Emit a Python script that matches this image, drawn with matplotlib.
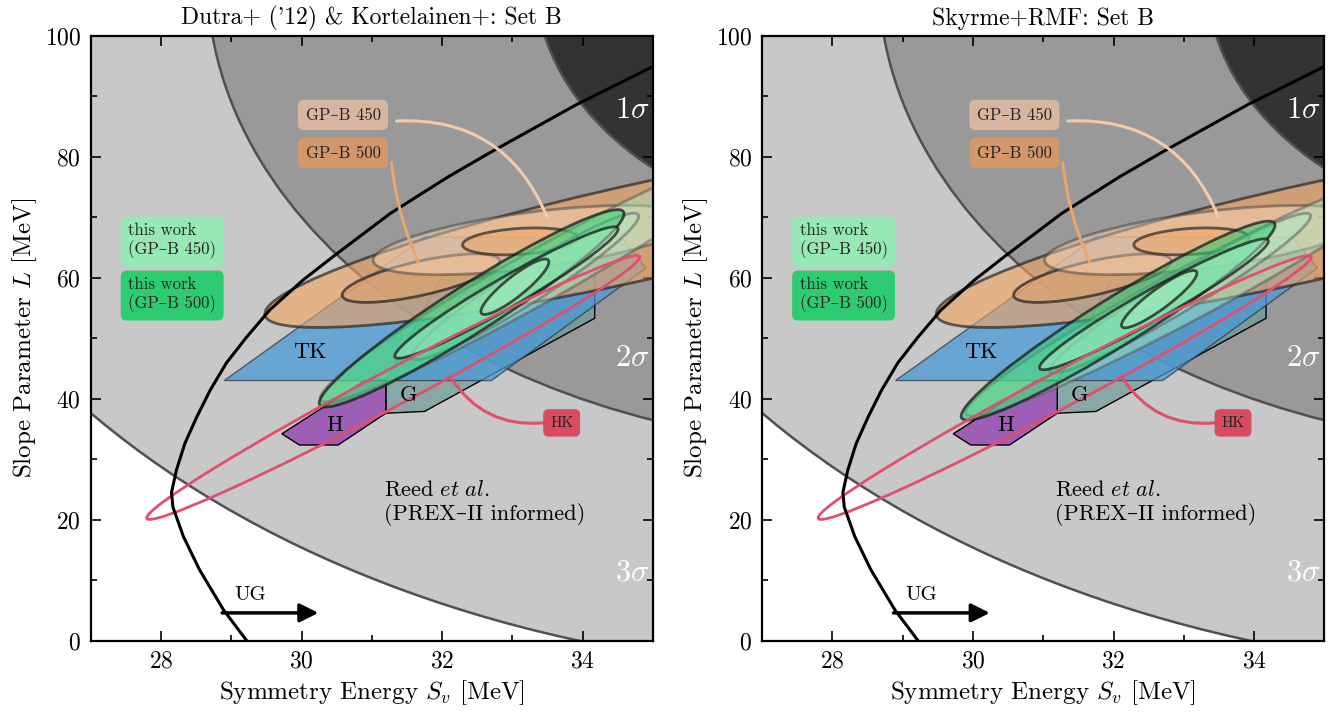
import numpy as np
import matplotlib
matplotlib.use("Agg")
import matplotlib.pyplot as plt
from matplotlib.colors import to_rgba
from matplotlib.patches import Ellipse, Polygon
from matplotlib.transforms import Affine2D
from matplotlib.ticker import MultipleLocator

plt.rcParams["font.family"] = ["cmr10", "DejaVu Serif"]
plt.rcParams["mathtext.fontset"] = "cm"
plt.rcParams["axes.formatter.use_mathtext"] = True

# Reed et al. (PREX-II informed): centre and half-widths of the 1, 2, 3 sigma contours
reed_sv0, reed_L0 = 38.29, 109.56
reed_sigma = ["1", "2", "3"]
reed_half_sv = [4.96, 9.63, 14.48]
reed_half_L = [42.05, 77.8, 114.85]

# unitary gas bound
ug_sv = [29.22, 28.89, 28.55, 28.32, 28.17, 28.15, 28.22, 28.34, 28.51, 28.70, 28.93,
         29.22, 29.55, 30.02, 30.45, 31.26, 32.09, 32.70, 33.91, 35.0]
ug_L = [0.0, 5.1, 11.7, 17.2, 22.1, 24.5, 28.2, 32.6, 37.0, 41.4, 45.9,
        50.2, 54.7, 59.6, 63.5, 70.6, 76.7, 80.8, 88.6, 94.9]

# TK, G, H regions
tk_sv = [28.9, 31.75, 34.55, 34.9, 32.7]
tk_L = [43.0, 66.7, 66.7, 61.6, 43.0]
g_sv = [31.2, 31.75, 34.17, 34.17, 32.0, 31.2]
g_L = [37.6, 37.9, 53.3, 60.4, 60.4, 42.8]
h_sv = [29.72, 29.97, 30.52, 31.2, 31.2, 30.9]
h_L = [34.2, 32.35, 32.35, 37.6, 43.0, 43.0]

# HK ellipse: ends of the long axis and half width (S_v units)
hk_sv = [27.8, 34.81]
hk_L = [20.2, 63.5]
hk_w = 0.256

# GP-B ellipses (outer 500, inner 500, outer 450, inner 450)
gpb_sv_lo = [29.48, 30.58, 31.02, 32.29]
gpb_L_lo = [53.8, 57.0, 62.8, 65.4]
gpb_sv_hi = [40.14, 32.82, 35.56, 33.93]
gpb_L_hi = [81.3, 62.85, 69.64, 66.6]
gpb_w = [0.683, 0.242, 0.398, 0.185]

# this work, Dutra+ & Kortelainen+ set
dutra_sv_lo = [30.27, 31.57, 30.26, 31.33, 32.56]
dutra_L_lo = [39.83, 46.7, 38.96, 46.9, 54.1]
dutra_sv_hi = [36.46, 34.79, 34.58, 34.5, 33.51]
dutra_L_hi = [80.4, 70.4, 70.9, 68.2, 62.9]
dutra_w = [0.37, 0.256, 0.341, 0.213, 0.142]

# this work, Skyrme+RMF set
skyrme_sv_lo = [29.9, 31.1, 29.84, 30.95, 32.12]
skyrme_L_lo = [37.5, 44.5, 36.8, 45.0, 51.9]
skyrme_sv_hi = [36.3, 34.8, 34.29, 34.2, 33.18]
skyrme_L_hi = [77.5, 70.4, 69.0, 66.2, 61.0]
skyrme_w = [0.37, 0.256, 0.341, 0.213, 0.142]

reed_fill = ["#333333", "#999999", "#c8c8c8"]
gpb_style = [("#f4a460", 0.6, "#262626", 0.7),
             ("#f4a460", 0.45, "#262626", 0.75),
             ("#ffdcc0", 0.45, "#404040", 0.5),
             ("#f4a460", 0.45, "#262626", 0.7)]
work_style = [("#a9eec6", 0.45, "#555555", 0.5),
              ("#a9eec6", 0.35, "#555555", 0.5),
              ("#2ecc71", 0.55, "#1a1a1a", 0.75),
              ("#a9eec6", 0.5, "#1a1a1a", 0.75),
              ("#a9eec6", 0.45, "#1a1a1a", 0.75)]


def add_ellipse(ax, k, sv, L, w, fc, ec, lw, z):
    # drawn in (S_v, L/k) where both axes have the same pixel scale
    y = [L[0] / k, L[1] / k]
    cx, cy = (sv[0] + sv[1]) / 2, (y[0] + y[1]) / 2
    half = np.hypot(sv[1] - sv[0], y[1] - y[0]) / 2
    ang = np.degrees(np.arctan2(y[1] - y[0], sv[1] - sv[0]))
    e = Ellipse((cx, cy), 2 * half, 2 * w, angle=ang, fc=fc, ec=ec, lw=lw,
                transform=Affine2D().scale(1, k) + ax.transData, zorder=z)
    ax.add_patch(e)


def pointer(ax, start, end, color, rad):
    ax.annotate("", xy=end, xytext=start, zorder=6.5,
                arrowprops=dict(arrowstyle="-", color=color, lw=2.2,
                                connectionstyle="arc3,rad=%g" % rad, shrinkA=0, shrinkB=0))


def draw_panel(ax, title, sv_lo, L_lo, sv_hi, L_hi, wid):
    ax.set_xlim(27, 35)
    ax.set_ylim(0, 100)
    bb = ax.get_window_extent()
    k = (bb.width / 8.0) / (bb.height / 100.0)

    for i in [2, 1, 0]:
        ax.add_patch(Ellipse((reed_sv0, reed_L0), 2 * reed_half_sv[i], 2 * reed_half_L[i],
                             fc=reed_fill[i], ec="#505050", lw=1.8, zorder=0.1 + 0.1 * (2 - i)))

    ax.add_patch(Polygon(np.column_stack([g_sv, g_L]), fc=to_rgba("#6f9a9a", 0.7),
                         ec="k", lw=1.0, zorder=1))
    ax.add_patch(Polygon(np.column_stack([tk_sv, tk_L]), fc=to_rgba("#4a9ad8", 0.75),
                         ec=to_rgba("#333333", 0.7), lw=1.0, zorder=1.1))
    ax.add_patch(Polygon(np.column_stack([h_sv, h_L]), fc=to_rgba("#9b59b6", 0.95),
                         ec="k", lw=1.0, zorder=1.2))

    for i in range(len(gpb_w)):
        fc, fa, ec, ea = gpb_style[i]
        add_ellipse(ax, k, [gpb_sv_lo[i], gpb_sv_hi[i]], [gpb_L_lo[i], gpb_L_hi[i]], gpb_w[i],
                    to_rgba(fc, fa), to_rgba(ec, ea), 2.0, 2 + 0.1 * i)
    for i in range(len(wid)):
        fc, fa, ec, ea = work_style[i]
        add_ellipse(ax, k, [sv_lo[i], sv_hi[i]], [L_lo[i], L_hi[i]], wid[i],
                    to_rgba(fc, fa), to_rgba(ec, ea), 2.0, 3 + 0.1 * i)
    add_ellipse(ax, k, hk_sv, hk_L, hk_w, "none", "#e0506e", 2.0, 4)

    ax.plot(ug_sv, ug_L, color="k", lw=2.2, zorder=5, solid_joinstyle="round")
    ax.annotate("", xy=(30.24, 4.6), xytext=(28.87, 4.6), zorder=5,
                arrowprops=dict(arrowstyle="-|>", color="k", lw=2.5, mutation_scale=28,
                                shrinkA=0, shrinkB=0))
    ax.text(29.27, 7.6, "UG", fontsize=15, ha="center", va="center", zorder=6)

    ax.text(30.12, 47.7, "TK", fontsize=16, ha="center", va="center", zorder=6)
    ax.text(30.47, 35.6, "H", fontsize=16, ha="center", va="center", zorder=6)
    ax.text(31.52, 40.6, "G", fontsize=16, ha="center", va="center", zorder=6)
    ax.text(31.17, 22.8, "Reed $\\mathit{et\\ al.}$\n(PREX–II informed)", fontsize=16,
            ha="left", va="center", linespacing=1.15, zorder=6)

    for lab, yy in [("1", 87.7), ("2", 46.7), ("3", 11.3)]:
        ax.text(34.95, yy, "$%s\\sigma$" % lab, color="white", fontsize=22,
                ha="right", va="center", zorder=6)

    def box(c):
        return dict(boxstyle="round,pad=0.45,rounding_size=0.35", fc=c, ec="none")

    pointer(ax, (31.35, 85.9), (33.49, 70.1), "#f2cba8", -0.35)
    pointer(ax, (31.28, 79.0), (31.66, 62.6), "#e9a56e", 0.08)
    pointer(ax, (33.43, 36.0), (32.13, 43.4), "#e0506e", -0.3)

    ax.text(30.59, 86.9, "GP–B 450", fontsize=12, ha="center", va="center",
            color="#222222", bbox=box("#d6b6a0"), zorder=7)
    ax.text(30.59, 80.6, "GP–B 500", fontsize=12, ha="center", va="center",
            color="#222222", bbox=box("#d4976a"), zorder=7)
    ax.text(33.7, 36.0, "HK", fontsize=11, ha="center", va="center",
            color="#222222", bbox=box("#d94b61"), zorder=7)
    ax.text(28.16, 66.1, "this work\n(GP–B 450)", fontsize=12, ha="center", va="center",
            multialignment="left", color="#222222", bbox=box("#96e8b4"), zorder=7)
    ax.text(28.16, 57.2, "this work\n(GP–B 500)", fontsize=12, ha="center", va="center",
            multialignment="left", color="#222222", bbox=box("#2ecc71"), zorder=7)

    ax.xaxis.set_major_locator(MultipleLocator(2))
    ax.xaxis.set_minor_locator(MultipleLocator(1))
    ax.yaxis.set_major_locator(MultipleLocator(20))
    ax.yaxis.set_minor_locator(MultipleLocator(10))
    ax.tick_params(which="both", direction="in", top=True, right=True, labelsize=17, width=1.2)
    ax.tick_params(which="major", length=7, pad=7)
    ax.tick_params(which="minor", length=4)
    for s in ax.spines.values():
        s.set_linewidth(1.6)
        s.set_zorder(10)
    ax.set_xlabel("Symmetry Energy $S_v$ [MeV]", fontsize=18)
    ax.set_ylabel("Slope Parameter $L$ [MeV]", fontsize=18)
    ax.set_title(title, fontsize=17, pad=8)


fig = plt.figure(figsize=(13.39, 7.12), dpi=100)
ax1 = fig.add_axes([0.0677, 0.1001, 0.42, 0.8498])
ax2 = fig.add_axes([0.5691, 0.1001, 0.42, 0.8498])

draw_panel(ax1, "Dutra+ ('12) & Kortelainen+: Set B",
           dutra_sv_lo, dutra_L_lo, dutra_sv_hi, dutra_L_hi, dutra_w)
draw_panel(ax2, "Skyrme+RMF: Set B",
           skyrme_sv_lo, skyrme_L_lo, skyrme_sv_hi, skyrme_L_hi, skyrme_w)

fig.savefig("out.png", dpi=100)
